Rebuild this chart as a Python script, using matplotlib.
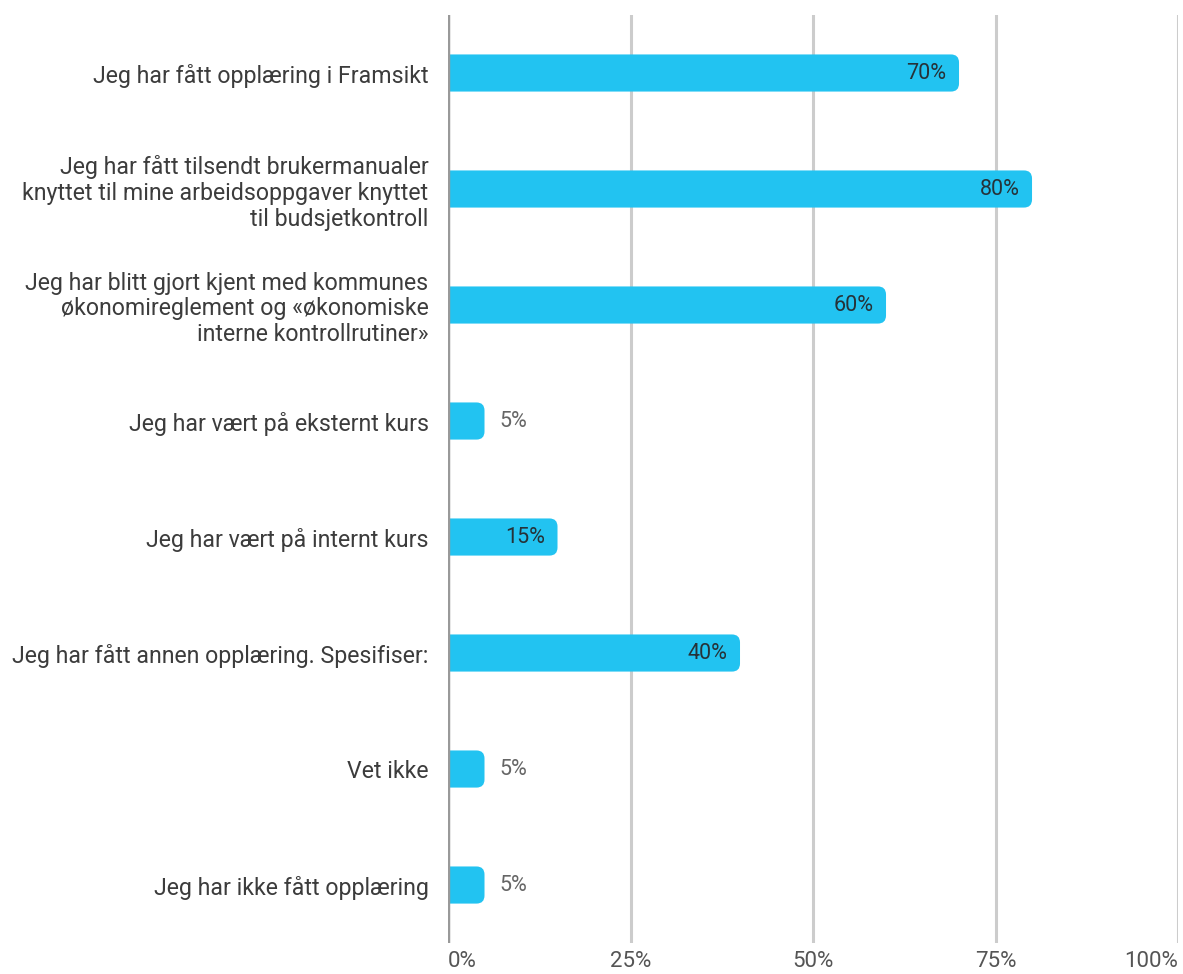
import matplotlib
matplotlib.use("Agg")
import matplotlib.pyplot as plt
from matplotlib.patches import FancyBboxPatch

plt.rcParams['font.family'] = ['Roboto', 'DejaVu Sans']

categories = [
    "Jeg har fått opplæring i Framsikt",
    "Jeg har fått tilsendt brukermanualer\nknyttet til mine arbeidsoppgaver knyttet\ntil budsjetkontroll",
    "Jeg har blitt gjort kjent med kommunes\nøkonomireglement og «økonomiske\ninterne kontrollrutiner»",
    "Jeg har vært på eksternt kurs",
    "Jeg har vært på internt kurs",
    "Jeg har fått annen opplæring. Spesifiser:",
    "Vet ikke",
    "Jeg har ikke fått opplæring",
]
values = [70, 80, 60, 5, 15, 40, 5, 5]
ticks = [0, 25, 50, 75, 100]
tick_labels = ["0%", "25%", "50%", "75%", "100%"]

bar_color = "#22C3F1"
bar_h = 0.32

fig = plt.figure(figsize=(11.83, 9.74), dpi=100)
ax = fig.add_axes([0.3787, 0.0318, 0.6171, 0.9528])
ax.set_xlim(0, 100)
ax.set_ylim(len(values) - 0.5, -0.5)

# bars with a rounded right end; left end is clipped by the axes
rx = 1.1
ry = 0.07
for i, v in enumerate(values):
    box = FancyBboxPatch((-5, i - bar_h / 2), v + 5, bar_h,
                         boxstyle=f"round,pad=0,rounding_size={rx}",
                         mutation_aspect=ry / rx,
                         facecolor=bar_color, edgecolor="none", zorder=3)
    ax.add_patch(box)
    if v >= 10:
        ax.text(v - 1.7, i, f"{v}%", ha="right", va="center",
                fontsize=15.5, color="#263238", zorder=4)
    else:
        ax.text(v + 2.0, i, f"{v}%", ha="left", va="center",
                fontsize=15.5, color="#666666", zorder=4)

for t in ticks[1:]:
    ax.axvline(t, color="#cccccc", lw=2.2, zorder=1)
ax.axvline(0, color="#999999", lw=2.5, zorder=5)

ax.set_yticks(range(len(categories)))
ax.set_yticklabels(categories, fontsize=16.7, color="#3c3c3c", linespacing=1.15)
ax.set_xticks(ticks)
ax.set_xticklabels(tick_labels, fontsize=16, color="#555555")
xl = ax.get_xticklabels()
xl[0].set_ha("left")
xl[-1].set_ha("right")
ax.tick_params(axis="both", length=0)
ax.tick_params(axis="y", pad=14)
ax.tick_params(axis="x", pad=6)
for s in ax.spines.values():
    s.set_visible(False)

fig.savefig("out.png", dpi=100, facecolor="white")
